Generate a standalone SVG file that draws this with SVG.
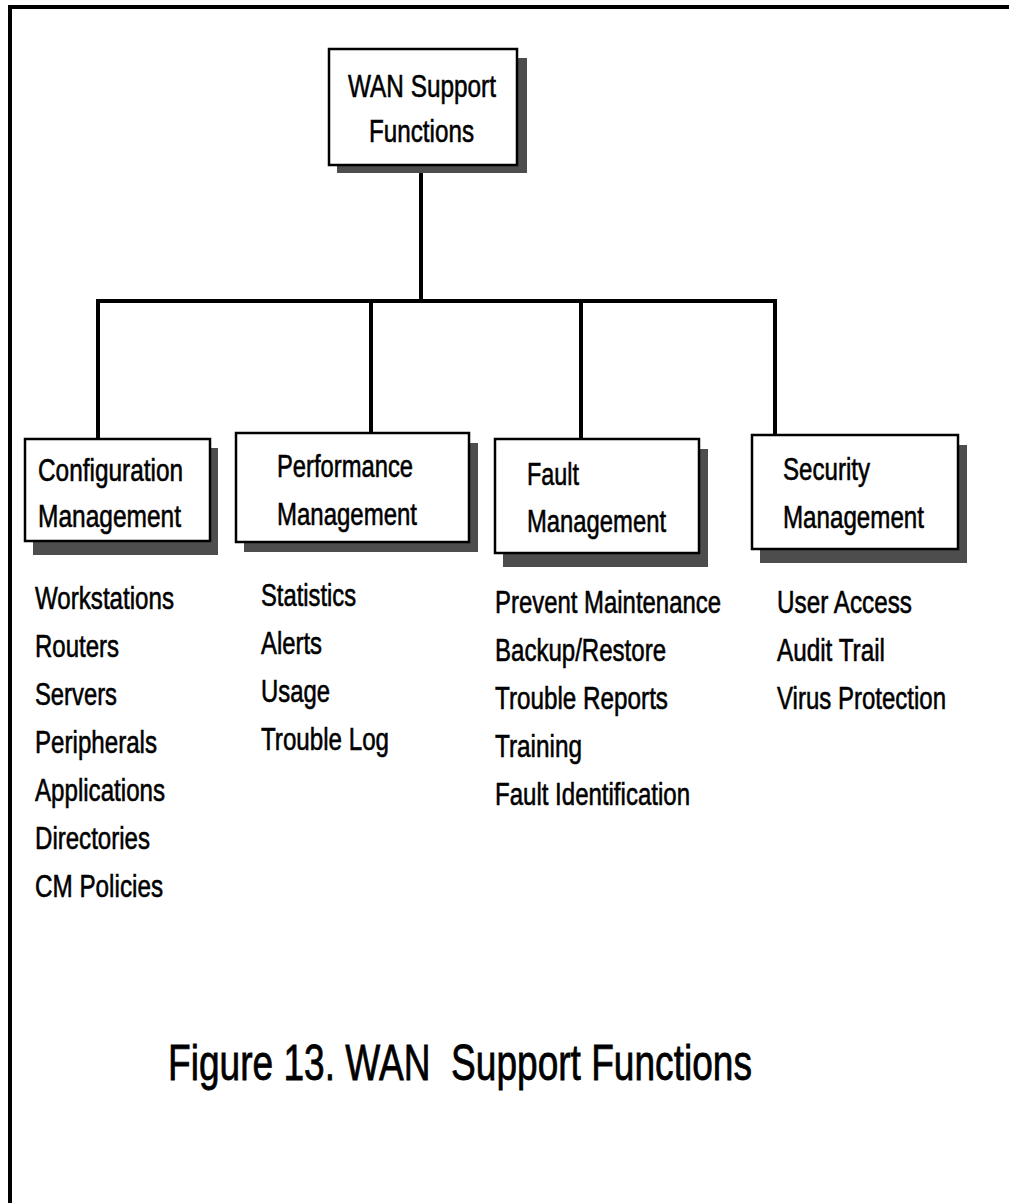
<svg xmlns="http://www.w3.org/2000/svg" width="1009" height="1203" viewBox="0 0 1009 1203">
<style>
.t{font-family:"Liberation Sans Narrow","Liberation Sans",Arial,sans-serif;font-size:32px;fill:#000;stroke:#000;stroke-width:0.6;}
.cap{font-family:"Liberation Sans Narrow","Liberation Sans",Arial,sans-serif;font-size:50px;fill:#000;stroke:#000;stroke-width:0.8;}
.box{fill:#fff;stroke:#000;stroke-width:2.5;}
.sh{fill:#4d4d4d;}
.ln{stroke:#000;stroke-width:4;fill:none;}
</style>
<rect width="1009" height="1203" fill="#fff"/>
<g id="frame">
<path d="M10 1203 V7 H1009" class="ln"/>
</g>
<g id="connectors">
<path d="M421 165 V301" class="ln"/>
<path d="M98 438 V301 H775 V434" class="ln"/>
<path d="M371 301 V433" class="ln"/>
<path d="M581 301 V438" class="ln"/>
</g>
<g id="root">
<rect x="337" y="58" width="190" height="115" class="sh"/>
<rect x="329" y="49" width="188" height="116" class="box"/>
<text class="t" x="348" y="97" textLength="148" lengthAdjust="spacingAndGlyphs">WAN Support</text>
<text class="t" x="369" y="142" textLength="105" lengthAdjust="spacingAndGlyphs">Functions</text>
</g>
<g id="config">
<rect x="33" y="448" width="185" height="107" class="sh"/>
<rect x="25" y="439" width="185" height="102" class="box"/>
<text class="t" x="38" y="481" textLength="145" lengthAdjust="spacingAndGlyphs">Configuration</text>
<text class="t" x="38" y="527" textLength="143" lengthAdjust="spacingAndGlyphs">Management</text>
</g>
<g id="perf">
<rect x="244" y="443" width="234" height="109" class="sh"/>
<rect x="236" y="433" width="233" height="109" class="box"/>
<text class="t" x="277" y="477" textLength="136" lengthAdjust="spacingAndGlyphs">Performance</text>
<text class="t" x="277" y="525" textLength="140" lengthAdjust="spacingAndGlyphs">Management</text>
</g>
<g id="fault">
<rect x="503" y="449" width="205" height="118" class="sh"/>
<rect x="495" y="439" width="204" height="114" class="box"/>
<text class="t" x="527" y="485" textLength="52" lengthAdjust="spacingAndGlyphs">Fault</text>
<text class="t" x="527" y="532" textLength="139" lengthAdjust="spacingAndGlyphs">Management</text>
</g>
<g id="security">
<rect x="760" y="445" width="207" height="118" class="sh"/>
<rect x="752" y="435" width="206" height="114" class="box"/>
<text class="t" x="783" y="480" textLength="87" lengthAdjust="spacingAndGlyphs">Security</text>
<text class="t" x="783" y="528" textLength="141" lengthAdjust="spacingAndGlyphs">Management</text>
</g>
<g id="config-items">
<text class="t" x="35" y="609" textLength="139" lengthAdjust="spacingAndGlyphs">Workstations</text>
<text class="t" x="35" y="657" textLength="84" lengthAdjust="spacingAndGlyphs">Routers</text>
<text class="t" x="35" y="705" textLength="82" lengthAdjust="spacingAndGlyphs">Servers</text>
<text class="t" x="35" y="753" textLength="122" lengthAdjust="spacingAndGlyphs">Peripherals</text>
<text class="t" x="35" y="801" textLength="130" lengthAdjust="spacingAndGlyphs">Applications</text>
<text class="t" x="35" y="849" textLength="115" lengthAdjust="spacingAndGlyphs">Directories</text>
<text class="t" x="35" y="897" textLength="128" lengthAdjust="spacingAndGlyphs">CM Policies</text>
</g>
<g id="perf-items">
<text class="t" x="261" y="606" textLength="95" lengthAdjust="spacingAndGlyphs">Statistics</text>
<text class="t" x="261" y="654" textLength="61" lengthAdjust="spacingAndGlyphs">Alerts</text>
<text class="t" x="261" y="702" textLength="69" lengthAdjust="spacingAndGlyphs">Usage</text>
<text class="t" x="261" y="750" textLength="128" lengthAdjust="spacingAndGlyphs">Trouble Log</text>
</g>
<g id="fault-items">
<text class="t" x="495" y="613" textLength="226" lengthAdjust="spacingAndGlyphs">Prevent Maintenance</text>
<text class="t" x="495" y="661" textLength="171" lengthAdjust="spacingAndGlyphs">Backup/Restore</text>
<text class="t" x="495" y="709" textLength="173" lengthAdjust="spacingAndGlyphs">Trouble Reports</text>
<text class="t" x="495" y="757" textLength="87" lengthAdjust="spacingAndGlyphs">Training</text>
<text class="t" x="495" y="805" textLength="195" lengthAdjust="spacingAndGlyphs">Fault Identification</text>
</g>
<g id="security-items">
<text class="t" x="777" y="613" textLength="135" lengthAdjust="spacingAndGlyphs">User Access</text>
<text class="t" x="777" y="661" textLength="108" lengthAdjust="spacingAndGlyphs">Audit Trail</text>
<text class="t" x="777" y="709" textLength="169" lengthAdjust="spacingAndGlyphs">Virus Protection</text>
</g>
<g id="caption">
<text class="cap" x="168" y="1080" textLength="584" lengthAdjust="spacingAndGlyphs" xml:space="preserve">Figure 13. WAN  Support Functions</text>
</g>
</svg>
